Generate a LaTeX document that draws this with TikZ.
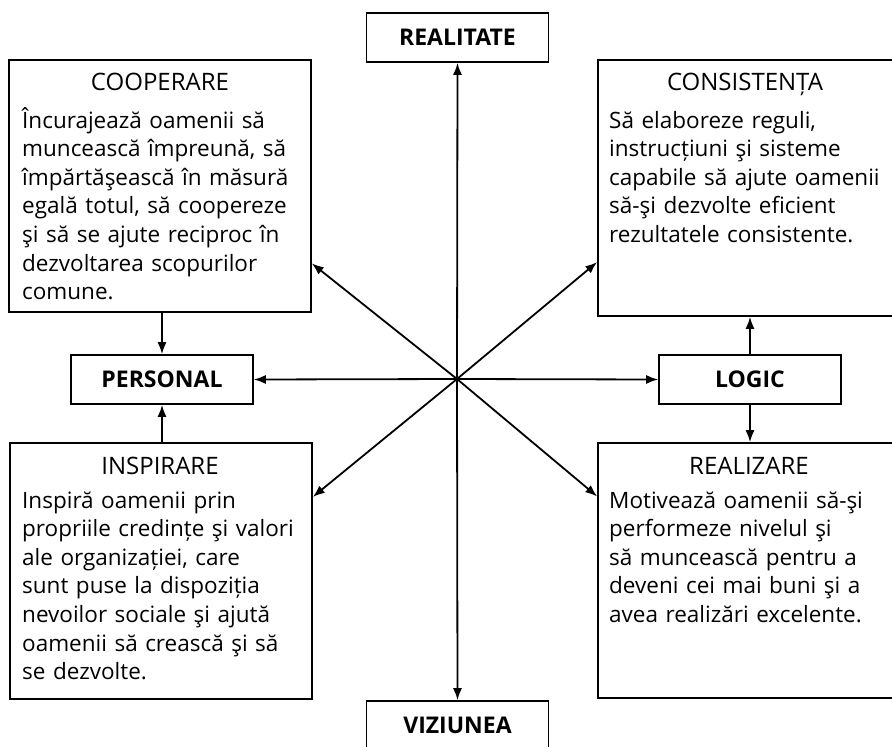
\documentclass[tikz,border=0pt]{standalone}
\usepackage{fontspec}
\setmainfont{Open Sans}
\usetikzlibrary{arrows.meta}

\tikzset{
  box/.style={draw=black, line width=1.6pt, inner sep=0pt, fill=white},
  bigbox/.style={box, minimum width=302pt, minimum height=#1},
  labelbox/.style={box, minimum width=182pt, minimum height=49pt,
    font=\fontsize{23}{26}\selectfont\bfseries},
  title/.style={anchor=base, inner sep=0pt, font=\fontsize{24}{28}\selectfont},
  body/.style={anchor=base west, inner sep=0pt, align=left, text width=290pt,
    font=\fontsize{22.5}{28.6}\selectfont},
  arr/.style={line width=1.8pt, -{Latex[length=12pt,width=9pt]}},
}

\begin{document}
\begin{tikzpicture}[x=1pt, y=-1pt]
\clip (0,0) rectangle (892,747);
\fill[white] (0,0) rectangle (892,747);

% outer quadrant boxes
\node[bigbox=252pt] (coop) at (160,186) {};
\node[bigbox=256pt] (cons) at (749,188) {};
\node[bigbox=256pt] (insp) at (161,571) {};
\node[bigbox=255pt] (real) at (749,570.5) {};

% axis labels
\node[labelbox] (top) at (457.5,37.5) {REALITATE};
\node[labelbox] (bot) at (457.5,725.5) {VIZIUNEA};
\node[labelbox] (pers) at (162,379.5) {PERSONAL};
\node[labelbox] (logic) at (750,379.5) {LOGIC};

\coordinate (c) at (457,379);

% box contents
\node[title] (t1) at (160,90) {COOPERARE};
\node[body] (b1) at (22,128) {Încurajează oamenii să\\
muncească împreună, să\\
împărtăşească în măsură\\
egală totul, să coopereze\\
şi să se ajute reciproc în\\
dezvoltarea scopurilor\\
comune.};

\node[title] (t2) at (745,90) {CONSISTENȚA};
\node[body] (b2) at (609,128) {Să elaboreze reguli,\\
instrucțiuni şi sisteme\\
capabile să ajute oamenii\\
să-şi dezvolte eficient\\
rezultatele consistente.};

\node[title] (t3) at (160,474) {INSPIRARE};
\node[body] (b3) at (22,508) {Inspiră oamenii prin\\
propriile credințe şi valori\\
ale organizației, care\\
sunt puse la dispoziția\\
nevoilor sociale şi ajută\\
oamenii să crească şi să\\
se dezvolte.};

\node[title] (t4) at (749,474) {REALIZARE};
\node[body] (b4) at (609,508) {Motivează oamenii să-şi\\
performeze nivelul şi\\
să muncească pentru a\\
deveni cei mai buni şi a\\
avea realizări excelente.};

% arrows from the centre
\draw[arr] (c) -- (top.south);
\draw[arr] (c) -- (bot.north);
\draw[arr] (c) -- (pers.east);
\draw[arr] (c) -- (logic.west);
\draw[arr] (c) -- (coop.-27);
\draw[arr] (c) -- (cons.206.4);
\draw[arr] (c) -- (insp.26);
\draw[arr] (c) -- (real.154);

% short vertical links
\draw[arr] (coop.south -| pers.north) -- (pers.north);
\draw[arr] (insp.north -| pers.south) -- (pers.south);
\draw[arr] (logic.north) -- (logic.north |- cons.south);
\draw[arr] (logic.south) -- (logic.south |- real.north);
\end{tikzpicture}
\end{document}
